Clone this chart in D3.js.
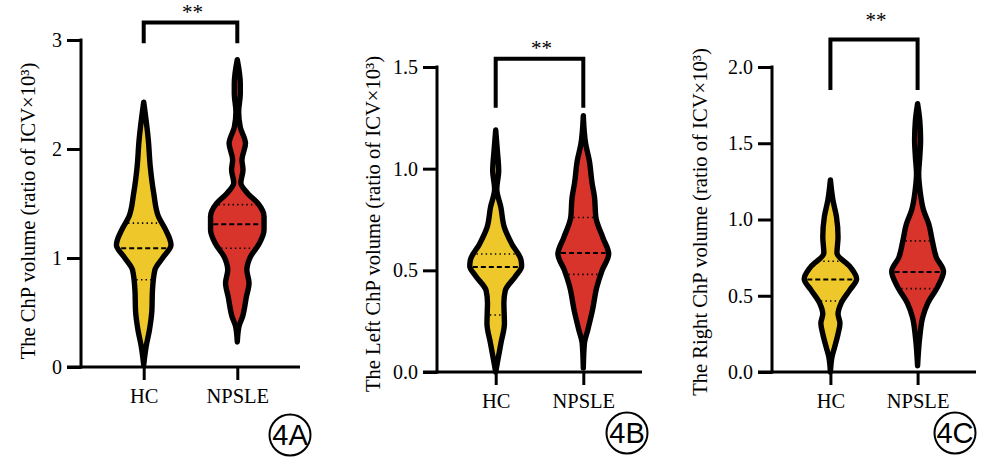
<!DOCTYPE html>
<html lang="en">
<head>
  <meta charset="UTF-8">
  <title>ChP volume violins</title>
  <style>
    body { margin: 0; background: #fff; }
  </style>
</head>
<body>
  <svg width="981" height="458"></svg>
  <script src="https://d3js.org/d3.v7.min.js"></script>
  <script>
    const groups = ["HC", "NPSLE"];
    const colors = ["#eec82b", "#d8342b"];

    const titles = [
      "The ChP volume (ratio of ICV×10³)",
      "The Left ChP volume (ratio of ICV×10³)",
      "The Right ChP volume (ratio of ICV×10³)"
    ];
    const badges = ["4A", "4B", "4C"];
    const ticksA = [0, 1, 2, 3];
    const ticksB = [0, 0.5, 1.0, 1.5];
    const ticksC = [0, 0.5, 1.0, 1.5, 2.0];

    // density profiles: [value, relative width]
    const violinA_HC = [[0.02,0],[0.19,0.09],[0.34,0.21],[0.52,0.30],[0.70,0.32],[0.89,0.41],
      [1.01,0.72],[1.12,1.0],[1.26,0.80],[1.38,0.54],[1.59,0.37],[1.84,0.24],[2.08,0.17],[2.43,0]];
    const violinA_NPSLE = [[0.23,0],[0.37,0.06],[0.46,0.19],[0.64,0.33],[0.77,0.43],[0.89,0.35],
      [1.01,0.48],[1.13,0.80],[1.26,0.98],[1.38,0.98],[1.50,0.76],[1.59,0.39],[1.69,0.13],
      [1.81,0.21],[1.90,0.17],[2.05,0.30],[2.20,0.11],[2.34,0.05],[2.51,0.11],[2.60,0.11],[2.82,0]];
    const violinB_HC = [[0.0,0],[0.06,0.08],[0.14,0.19],[0.24,0.32],[0.34,0.30],[0.40,0.35],
      [0.47,0.72],[0.52,0.95],[0.55,0.93],[0.63,0.59],[0.71,0.32],[0.81,0.19],[0.90,0.04],
      [0.99,0.11],[1.09,0.06],[1.19,0]];
    const violinB_NPSLE = [[0.02,0],[0.14,0.04],[0.21,0.17],[0.30,0.33],[0.42,0.50],[0.50,0.69],
      [0.58,0.93],[0.66,0.72],[0.76,0.46],[0.86,0.41],[0.93,0.32],[1.04,0.22],[1.12,0.09],[1.26,0]];
    const violinC_HC = [[0.0,0],[0.10,0.06],[0.16,0.15],[0.25,0.28],[0.32,0.35],[0.38,0.28],
      [0.45,0.39],[0.54,0.72],[0.61,0.96],[0.69,0.72],[0.78,0.24],[0.885,0.28],[1.02,0.22],
      [1.13,0.09],[1.26,0]];
    const violinC_NPSLE = [[0.04,0],[0.23,0.08],[0.36,0.19],[0.45,0.37],[0.56,0.74],[0.66,0.95],
      [0.75,0.69],[0.86,0.54],[0.97,0.41],[1.06,0.22],[1.19,0.09],[1.30,0.04],[1.41,0.08],
      [1.52,0.11],[1.65,0.08],[1.76,0]];

    // Q1, median, Q3
    const quartA_HC = [0.80, 1.09, 1.32];
    const quartA_NPSLE = [1.09, 1.31, 1.49];
    const quartB_HC = [0.28, 0.517, 0.58];
    const quartB_NPSLE = [0.48, 0.585, 0.76];
    const quartC_HC = [0.466, 0.606, 0.726];
    const quartC_NPSLE = [0.547, 0.656, 0.86];

    const panels = [
      { x0: 81, x1: 300, yTop: 40, yBot: 367, domain: [0, 3], ticks: ticksA, fmt: d3.format("d"),
        violins: [violinA_HC, violinA_NPSLE], quarts: [quartA_HC, quartA_NPSLE],
        bracket: [2.97, 3.16], starY: 19, titleX: 28, titleY: 211, badge: [290, 435] },
      { x0: 437, x1: 642, yTop: 67, yBot: 372, domain: [0, 1.5], ticks: ticksB, fmt: d3.format(".1f"),
        violins: [violinB_HC, violinB_NPSLE], quarts: [quartB_HC, quartB_NPSLE],
        bracket: [1.30, 1.54], starY: 55, titleX: 373, titleY: 224, badge: [627, 433] },
      { x0: 772, x1: 976, yTop: 67, yBot: 372, domain: [0, 2], ticks: ticksC, fmt: d3.format(".1f"),
        violins: [violinC_HC, violinC_NPSLE], quarts: [quartC_HC, quartC_NPSLE],
        bracket: [1.85, 2.18], starY: 27, titleX: 700, titleY: 222, badge: [955, 433] }
    ];

    const serif = "'Liberation Serif', 'Times New Roman', serif";
    const svg = d3.select("svg");
    const outline = 5.4;
    const wScale = d3.scaleLinear().domain([0, 1]).range([0, 27.3]);

    panels.forEach((p, i) => {
      const g = svg.append("g");
      const y = d3.scaleLinear().domain(p.domain).range([p.yBot, p.yTop]);
      const x = d3.scalePoint().domain(groups).range([p.x0, p.x1]).padding(0.67);

      // violins
      groups.forEach((grp, k) => {
        const cx = x(grp);
        const prof = p.violins[k];
        const area = d3.area()
          .curve(d3.curveMonotoneY)
          .y(d => y(d[0]))
          .x0(d => cx - wScale(d[1]))
          .x1(d => cx + wScale(d[1]));
        g.append("path")
          .attr("d", area(prof))
          .attr("fill", colors[k])
          .attr("stroke", "#000")
          .attr("stroke-width", outline)
          .attr("stroke-linejoin", "round");

        const widthAt = d3.scaleLinear().domain(prof.map(d => d[0])).range(prof.map(d => d[1]));
        p.quarts[k].forEach((q, j) => {
          const hw = Math.max(0, wScale(widthAt(q)) - outline / 2);
          g.append("line")
            .attr("x1", cx - hw).attr("x2", cx + hw)
            .attr("y1", y(q)).attr("y2", y(q))
            .attr("stroke", "#000")
            .attr("stroke-width", j === 1 ? 2 : 1.6)
            .attr("stroke-dasharray", j === 1 ? "5,3" : "1.4,3.2");
        });
      });

      // y axis
      const yAxis = d3.axisLeft(y).tickValues(p.ticks).tickFormat(p.fmt).tickSize(14).tickPadding(5);
      const ya = g.append("g").attr("transform", `translate(${p.x0},0)`).call(yAxis);
      ya.select(".domain").attr("stroke-width", 3).attr("d", `M0,${p.yBot + 1.5}V${p.yTop - 1.5}`);
      ya.selectAll(".tick line").attr("stroke-width", 3);
      ya.selectAll(".tick text").style("font-family", serif).style("font-size", "20px");

      // x axis
      const xAxis = d3.axisBottom(x).tickSize(13).tickPadding(8);
      const xa = g.append("g").attr("transform", `translate(0,${p.yBot})`).call(xAxis);
      xa.select(".domain").attr("stroke-width", 3).attr("d", `M${p.x0 - 14},0H${p.x1}`);
      xa.selectAll(".tick line").attr("stroke-width", 3);
      xa.selectAll(".tick text").style("font-family", serif).style("font-size", "20.5px");

      // significance bracket
      const xa0 = x(groups[0]), xa1 = x(groups[1]);
      g.append("path")
        .attr("d", `M${xa0},${y(p.bracket[0])}V${y(p.bracket[1])}H${xa1}V${y(p.bracket[0])}`)
        .attr("fill", "none").attr("stroke", "#000").attr("stroke-width", 4);
      g.append("text")
        .style("font-family", serif).style("font-size", "21px")
        .attr("x", (xa0 + xa1) / 2 + 2).attr("y", p.starY)
        .attr("text-anchor", "middle").text("**");

      // y title
      g.append("text")
        .style("font-family", serif).style("font-size", "20.6px")
        .attr("transform", `translate(${p.titleX},${p.titleY}) rotate(-90)`)
        .attr("text-anchor", "middle").attr("dominant-baseline", "central")
        .text(titles[i]);

      // panel badge
      g.append("circle").attr("cx", p.badge[0]).attr("cy", p.badge[1]).attr("r", 20.5)
        .attr("fill", "none").attr("stroke", "#000").attr("stroke-width", 2);
      g.append("text")
        .style("font-family", "'Liberation Sans', Arial, sans-serif").style("font-size", "29px")
        .attr("x", p.badge[0]).attr("y", p.badge[1])
        .attr("text-anchor", "middle").attr("dominant-baseline", "central")
        .text(badges[i]);
    });
  </script>
</body>
</html>
